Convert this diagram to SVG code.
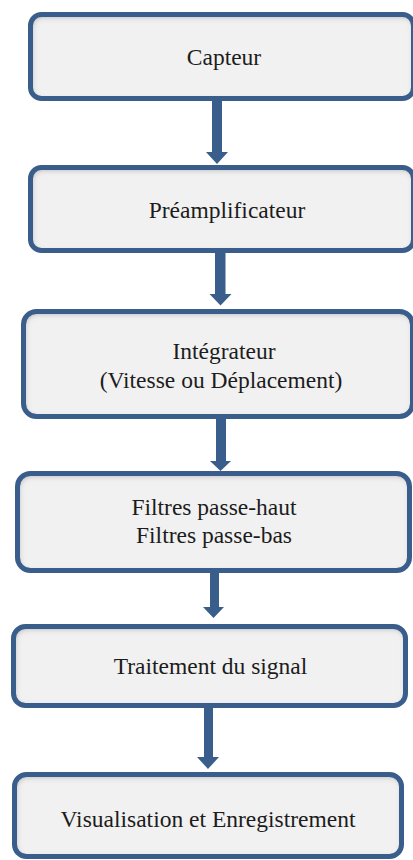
<svg xmlns="http://www.w3.org/2000/svg" width="413" height="860" viewBox="0 0 413 860">
  <style>
    .box-fill { fill: #f1f1f1; filter: url(#inset); }
    .box-edge { fill: none; stroke: #3a5e8c; stroke-width: 5; }
    .label { font-family: "Liberation Serif", serif; font-size: 23.5px; fill: #1c1c1c; text-anchor: middle; }
    .arrow { fill: #3a5e8c; }
  </style>
  <defs>
    <!-- soft inner shadow along the inside of each box -->
    <filter id="inset" x="-10%" y="-20%" width="120%" height="140%">
      <feFlood flood-color="#000" flood-opacity="0.6" result="dark"/>
      <feComposite in="dark" in2="SourceAlpha" operator="out" result="outside"/>
      <feOffset in="outside" dx="1" dy="2" result="moved"/>
      <feGaussianBlur in="moved" stdDeviation="3" result="soft"/>
      <feComposite in="soft" in2="SourceAlpha" operator="in" result="inner"/>
      <feMerge>
        <feMergeNode in="SourceGraphic"/>
        <feMergeNode in="inner"/>
      </feMerge>
    </filter>
  </defs>

  <g id="capteur">
    <rect class="box-fill" x="30.5" y="14.5" width="383" height="84" rx="11"/>
    <rect class="box-edge" x="30.5" y="14.5" width="383" height="84" rx="11"/>
    <text class="label" x="224" y="65" font-family="Liberation Serif, serif">Capteur</text>
  </g>

  <g id="preamplificateur">
    <rect class="box-fill" x="30.5" y="167.5" width="383" height="83" rx="11"/>
    <rect class="box-edge" x="30.5" y="167.5" width="383" height="83" rx="11"/>
    <text class="label" x="227" y="218" font-family="Liberation Serif, serif">Préamplificateur</text>
  </g>

  <g id="integrateur">
    <rect class="box-fill" x="23.5" y="311.5" width="389" height="105" rx="13"/>
    <rect class="box-edge" x="23.5" y="311.5" width="389" height="105" rx="13"/>
    <text class="label" x="224" y="359" font-family="Liberation Serif, serif">Intégrateur</text>
    <text class="label" x="221" y="388" font-family="Liberation Serif, serif">(Vitesse ou Déplacement)</text>
  </g>

  <g id="filtres">
    <rect class="box-fill" x="17.5" y="473.5" width="392" height="97" rx="13"/>
    <rect class="box-edge" x="17.5" y="473.5" width="392" height="97" rx="13"/>
    <text class="label" x="214" y="515" font-family="Liberation Serif, serif">Filtres passe-haut</text>
    <text class="label" x="214" y="543" font-family="Liberation Serif, serif">Filtres passe-bas</text>
  </g>

  <g id="traitement">
    <rect class="box-fill" x="13.5" y="626.5" width="392" height="79" rx="12"/>
    <rect class="box-edge" x="13.5" y="626.5" width="392" height="79" rx="12"/>
    <text class="label" x="210.5" y="674" font-family="Liberation Serif, serif">Traitement du signal</text>
  </g>

  <g id="visualisation">
    <rect class="box-fill" x="14.5" y="774.5" width="387" height="82" rx="12"/>
    <rect class="box-edge" x="14.5" y="774.5" width="387" height="82" rx="12"/>
    <text class="label" x="208" y="827" font-family="Liberation Serif, serif">Visualisation et Enregistrement</text>
  </g>

  <g id="connectors">
    <polygon class="arrow" points="212,100 222,100 222,152 228,152 217,164 206,152 212,152"/>
    <polygon class="arrow" points="215,252 225.5,252 225.5,294 231.5,294 220.5,305.5 209.5,294 215,294"/>
    <polygon class="arrow" points="216,418 226,418 226,461 231,461 220.5,471 210,461 216,461"/>
    <polygon class="arrow" points="210,572 219,572 219,607 224,607 213.5,618 203,607 210,607"/>
    <polygon class="arrow" points="204,707 213,707 213,757 219,757 208,769 197,757 204,757"/>
  </g>
</svg>
